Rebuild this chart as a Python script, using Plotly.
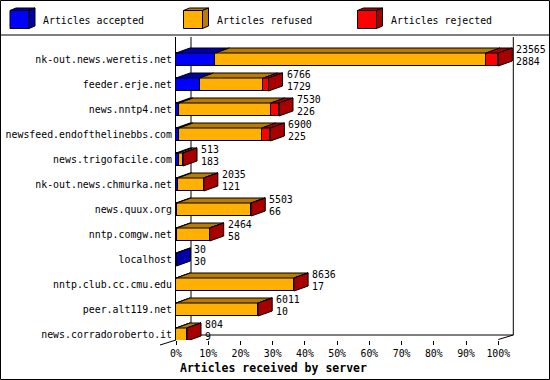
import plotly.graph_objects as go

# ---------------- data ----------------
hosts = ["nk-out.news.weretis.net", "feeder.erje.net", "news.nntp4.net",
         "newsfeed.endofthelinebbs.com", "news.trigofacile.com",
         "nk-out.news.chmurka.net", "news.quux.org", "nntp.comgw.net",
         "localhost", "nntp.club.cc.cmu.edu", "peer.alt119.net",
         "news.corradoroberto.it"]
total    = [23565, 6766, 7530, 6900, 513, 2035, 5503, 2464, 30, 8636, 6011, 804]
accepted = [2884, 1729, 226, 225, 183, 121, 66, 58, 30, 17, 10, 9]
refused  = [19781, 4657, 6704, 6045, 310, 1899, 5417, 2401, 0, 8604, 5996, 785]
rejected = [900, 380, 600, 630, 20, 15, 20, 5, 0, 15, 5, 10]
series_names = ["Articles accepted", "Articles refused", "Articles rejected"]
x_ticks = [0, 10, 20, 30, 40, 50, 60, 70, 80, 90, 100]

front_cols = ["#0000FF", "#FFB000", "#FF0000"]
dark_cols = ["#0000A8", "#B87C00", "#A80000"]

# ---------------- geometry ----------------
W, H = 550, 380
L, R, T, B = 176, 5, 37, 40
PW, PH = W - L - R, H - T - B
PX_PER_PCT = 3.223
ROW = 25.0
Y0C = 59.5
xmax = PW / PX_PER_PCT
ytop = -(Y0C - T) / ROW
ybot = (H - B - Y0C) / ROW
DX = 14 / PX_PER_PCT
DY = 5 / ROW
BW = 13 / ROW
WDX = 15 / PX_PER_PCT
yfloor = (335 - Y0C) / ROW
FONT = "DejaVu Sans Mono"


def px(xp):
    return (xp - L) / PW


def py(yp):
    return (H - B - yp) / PH


maxv = max(total)
scale = 100.0 / maxv
idx = list(range(len(hosts)))
series_vals = [accepted, refused, rejected]

fig = go.Figure()
for name, vals, col in zip(series_names, series_vals, front_cols):
    fig.add_trace(go.Bar(
        y=idx, x=[v * scale for v in vals], orientation="h", name=name,
        marker=dict(color=col, line=dict(color="black", width=1)),
        width=BW, showlegend=False, hoverinfo="skip"))

shapes = []
lw = dict(color="black", width=1)
# back walls / floor
shapes.append(dict(type="line", xref="x", yref="y", x0=WDX, x1=WDX, y0=ytop, y1=yfloor, line=lw, layer="below"))
shapes.append(dict(type="line", xref="x", yref="y", x0=100 + WDX, x1=100 + WDX, y0=ytop, y1=yfloor, line=lw, layer="below"))
shapes.append(dict(type="line", xref="x", yref="y", x0=WDX, x1=100 + WDX, y0=yfloor, y1=yfloor, line=lw, layer="below"))
shapes.append(dict(type="line", xref="x", yref="y", x0=100, x1=100 + WDX, y0=ybot - 0.02, y1=yfloor, line=lw, layer="below"))
shapes.append(dict(type="line", xref="paper", yref="paper", x0=px(160), x1=px(176), y0=py(345), y1=py(340), line=lw))

# 3D faces
for i in idx:
    yt = i - BW / 2
    yb = i + BW / 2
    s = 0.0
    last = None
    for k, vals in enumerate(series_vals):
        v = vals[i] * scale
        if v <= 0:
            continue
        x0, x1 = s, s + v
        path = (f"M {x0},{yt} L {x1},{yt} L {x1 + DX},{yt - DY} "
                f"L {x0 + DX},{yt - DY} Z")
        shapes.append(dict(type="path", xref="x", yref="y", path=path,
                           fillcolor=dark_cols[k], line=lw, layer="above"))
        s = x1
        last = k
    xe = s
    path = (f"M {xe},{yt} L {xe + DX},{yt - DY} L {xe + DX},{yb - DY} "
            f"L {xe},{yb} Z")
    shapes.append(dict(type="path", xref="x", yref="y", path=path,
                       fillcolor=dark_cols[last], line=lw, layer="above"))

# frame and header line
shapes.append(dict(type="rect", xref="paper", yref="paper", x0=px(0.5), x1=px(549.5),
                   y0=py(0.5), y1=py(379.5), line=lw, fillcolor="rgba(0,0,0,0)"))
shapes.append(dict(type="line", xref="paper", yref="paper", x0=px(0), x1=px(550),
                   y0=py(35), y1=py(35), line=lw))

annotations = []
# custom legend with cubes
leg_x = [10, 183.5, 357.5]
for k, name in enumerate(series_names):
    x0 = leg_x[k]
    x1 = x0 + 19
    y0, y1 = 10.5, 28.5
    d, e = 6, 2.5
    shapes.append(dict(type="path", xref="paper", yref="paper",
                       path=(f"M {px(x0)},{py(y0)} L {px(x0 + d)},{py(y0 - e)} L {px(x1 + d)},{py(y0 - e)} "
                             f"L {px(x1)},{py(y0)} Z"),
                       fillcolor=dark_cols[k], line=lw))
    shapes.append(dict(type="path", xref="paper", yref="paper",
                       path=(f"M {px(x1)},{py(y0)} L {px(x1 + d)},{py(y0 - e)} L {px(x1 + d)},{py(y1 - e)} "
                             f"L {px(x1)},{py(y1)} Z"),
                       fillcolor=dark_cols[k], line=lw))
    shapes.append(dict(type="rect", xref="paper", yref="paper", x0=px(x0), x1=px(x1),
                       y0=py(y1), y1=py(y0), fillcolor=front_cols[k], line=lw))
    annotations.append(dict(xref="paper", yref="paper", x=px(x0 + 31), y=py(20),
                            xanchor="left", yanchor="middle", showarrow=False, text=name,
                            font=dict(family=FONT, size=9.9, color="black")))

# value labels (total above, accepted below)
for i in idx:
    xe = (accepted[i] + refused[i] + rejected[i]) * scale
    xl = xe + DX + 3 / PX_PER_PCT
    for txt, dyl in ((str(total[i]), -0.39), (str(accepted[i]), 0.06)):
        annotations.append(dict(xref="x", yref="y", x=xl, y=i + dyl,
                                xanchor="left", yanchor="middle", showarrow=False,
                                text=txt, borderpad=0,
                                font=dict(family=FONT, size=9.9, color="black")))

# axis title
annotations.append(dict(xref="paper", yref="paper", x=px(178), y=py(368),
                        xanchor="left", yanchor="middle", showarrow=False,
                        text="<b>Articles received by server</b>",
                        font=dict(family=FONT, size=11.5, color="black")))

fig.update_layout(
    width=W, height=H, margin=dict(l=L, r=R, t=T, b=B, autoexpand=False),
    paper_bgcolor="white", plot_bgcolor="white",
    barmode="stack", bargap=0, showlegend=False,
    shapes=shapes, annotations=annotations,
    xaxis=dict(range=[0, xmax], tickvals=x_ticks, ticktext=[f"{t}%" for t in x_ticks],
               showgrid=False, zeroline=False, showline=False, ticks="outside",
               ticklen=4, tickcolor="black", automargin=False,
               tickfont=dict(family=FONT, size=9.9, color="black")),
    yaxis=dict(range=[ybot, ytop], tickvals=idx, ticktext=hosts, showgrid=False,
               zeroline=False, showline=True, linecolor="black", linewidth=1,
               ticks="", ticklabelstandoff=1, automargin=False,
               tickfont=dict(family=FONT, size=9.9, color="black")),
)

fig.write_html("out.html")
